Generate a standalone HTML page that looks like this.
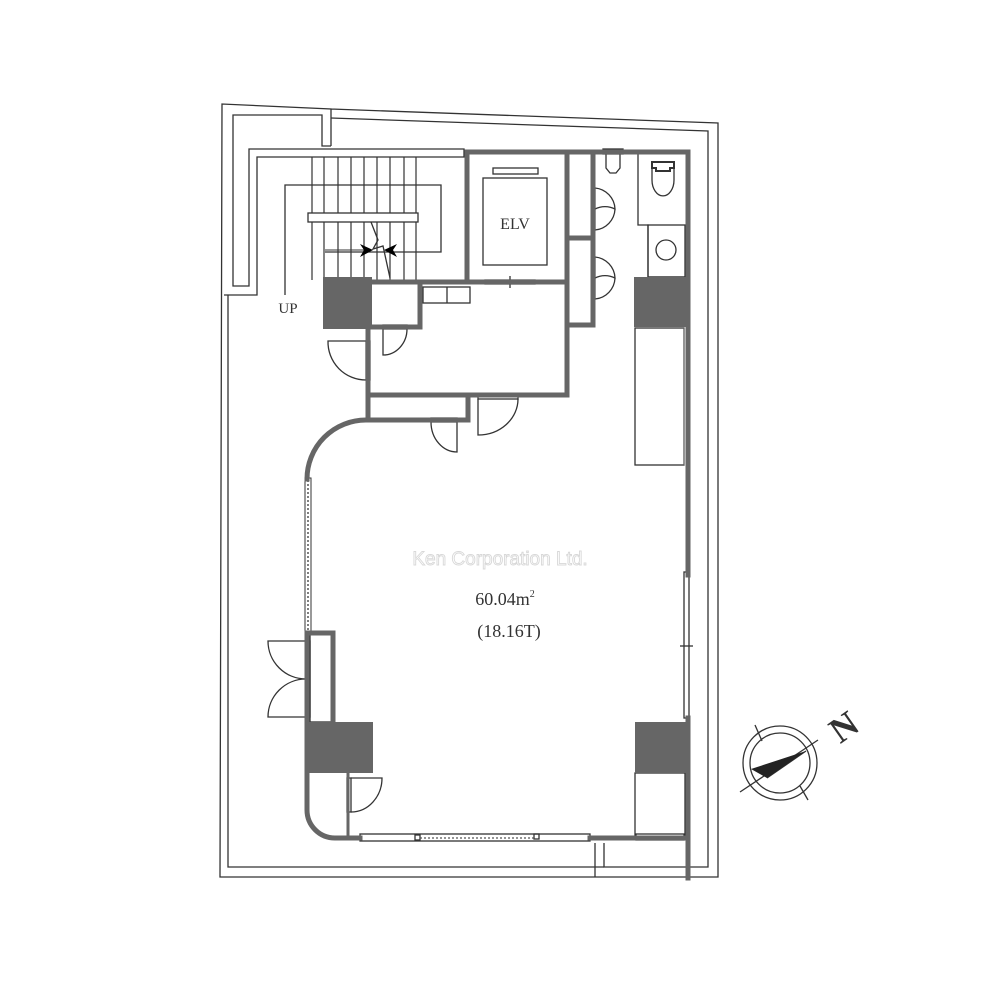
<!DOCTYPE html>
<html><head><meta charset="utf-8"><style>
html,body{margin:0;padding:0;background:#fff;}
svg{display:block;}
text{font-family:"Liberation Serif",serif;fill:#333;}
</style></head><body>
<svg width="1000" height="1000" viewBox="0 0 1000 1000" xmlns="http://www.w3.org/2000/svg">
<rect width="1000" height="1000" fill="#fff"/>
<g fill="none" stroke="#333" stroke-width="1.3">
<polyline points="331,109 718,123 718,877 220,877 222,104 331,109 331,146"/>
<polyline points="331,118 708,131 708,867 604,867 604,843"/>
<polyline points="595,843 595,877"/>
<polyline points="604,867 228,867 228,295"/>
<polyline points="224,295 257,295 257,157 464,157 464,149 249,149 249,286 233,286 233,115 322,115 322,146 331,146"/>
<g stroke-width="1.2">
<line x1="312" y1="157" x2="312" y2="280"/><line x1="324" y1="157" x2="324" y2="280"/>
<line x1="338" y1="157" x2="338" y2="280"/><line x1="351" y1="157" x2="351" y2="280"/>
<line x1="364" y1="157" x2="364" y2="280"/><line x1="377" y1="157" x2="377" y2="280"/>
<line x1="390" y1="157" x2="390" y2="280"/><line x1="404" y1="157" x2="404" y2="280"/>
<line x1="416" y1="157" x2="416" y2="280"/>
</g>
<polyline points="285,295 285,185 441,185 441,252 325,252"/>
<rect x="308" y="213" width="110" height="9" fill="#fff"/>
<polyline points="371,222 378,240 373,249 383,246 390,278"/>
<rect x="483" y="178" width="64" height="87"/>
<rect x="493" y="168" width="45" height="6"/>
<rect x="485" y="280" width="50" height="4" fill="#fff"/>
<line x1="510" y1="276" x2="510" y2="288"/>
<rect x="423" y="287" width="47" height="16"/>
<line x1="447" y1="287" x2="447" y2="303"/>
<polyline points="638,152 638,225 648,225 648,277 685,277"/>
<rect x="648" y="225" width="37" height="52"/>
<circle cx="666" cy="250" r="10"/>
<path d="M652,162 h22 v6 h-4 v3 h-14 v-3 h-4 z" stroke-width="2"/>
<path d="M652,168 v12 a9,13 0 0 0 22,0 v-12"/>
<rect x="603" y="149" width="20" height="5"/>
<path d="M606,154 v14 l4,5 h6 l4,-5 v-14"/>
<rect x="592" y="188" width="3" height="42"/>
<path d="M595,188 a22,22 0 0 1 20,21 a22,22 0 0 0 -20,0 M595,230 a22,22 0 0 0 20,-21"/>
<rect x="592" y="257" width="3" height="42"/>
<path d="M595,257 a22,22 0 0 1 20,21 a22,22 0 0 0 -20,0 M595,299 a22,22 0 0 0 20,-21"/>
<rect x="635" y="328" width="49" height="137"/>
<rect x="366" y="341" width="4" height="39" fill="#fff"/>
<path d="M366,341 h-38 a38,38 0 0 0 38,39"/>
<rect x="383" y="325" width="24" height="4" fill="#fff"/>
<path d="M383,329 v26 a24,26 0 0 0 24,-26"/>
<rect x="431" y="418" width="26" height="4" fill="#fff"/>
<path d="M457,422 v30 a26,30 0 0 1 -26,-30"/>
<rect x="478" y="395" width="40" height="4" fill="#fff"/>
<path d="M478,399 v36 a40,36 0 0 0 40,-36"/>
<rect x="306" y="641" width="4" height="76" fill="#fff"/>
<path d="M306,641 h-38 a38,38 0 0 0 38,38 a38,38 0 0 0 -38,38 h38"/>
<rect x="310" y="633" width="23" height="89"/>
<rect x="347" y="778" width="4" height="34" fill="#fff"/>
<path d="M351,778 h31 a31,34 0 0 1 -31,34"/>
<rect x="635" y="773" width="50" height="65"/>
<rect x="360" y="834" width="230" height="7" fill="#fff"/>
<rect x="415" y="835" width="5" height="5"/><rect x="534" y="834" width="5" height="5"/>
<rect x="636" y="834" width="48" height="6" fill="#fff"/>
<rect x="684" y="572" width="5" height="146" fill="#fff"/>
<line x1="680" y1="646" x2="693" y2="646"/>
</g>
<rect x="305" y="478" width="6" height="155" fill="#fff" stroke="#333" stroke-width="1"/>
<line x1="308" y1="480" x2="308" y2="630" stroke="#555" stroke-width="1.5" stroke-dasharray="2,2"/>
<line x1="420" y1="838" x2="534" y2="838" stroke="#555" stroke-width="1.2" stroke-dasharray="2,2"/>
<g fill="none" stroke="#666" stroke-width="5" stroke-linecap="square">
<polyline points="467,282 467,152 688,152 688,575"/>
<line x1="688" y1="718" x2="688" y2="878"/>
<line x1="567" y1="152" x2="567" y2="395"/>
<line x1="372" y1="282" x2="567" y2="282"/>
<polyline points="593,152 593,325 567,325"/>
<line x1="567" y1="238" x2="593" y2="238"/>
<polyline points="420,282 420,327 372,327"/>
<polyline points="368,329 368,395 567,395"/>
<polyline points="368,395 368,420 468,420 468,397"/>
<path d="M366,420 A59,59 0 0 0 307,479"/>
<path d="M307,633 V810 A28,28 0 0 0 335,838 H360"/>
<polyline points="307,633 333,633 333,722"/>
<line x1="590" y1="838" x2="688" y2="838"/>
</g>
<line x1="348" y1="773" x2="348" y2="836" stroke="#666" stroke-width="3"/>
<line x1="684" y1="465" x2="684" y2="328" stroke="#666" stroke-width="1"/>
<g fill="#666">
<rect x="323" y="277" width="49" height="52"/>
<rect x="634" y="277" width="54" height="50"/>
<rect x="306" y="722" width="67" height="51"/>
<rect x="635" y="722" width="55" height="51"/>
</g>
<line x1="325" y1="250" x2="366" y2="250" stroke="#333" stroke-width="1"/>
<g fill="#000">
<polygon points="360,244 373,250 360,257 364,250"/>
<polygon points="397,244 384,250 397,257 393,250"/>
</g>
<g fill="none" stroke="#333" stroke-width="1.3">
<circle cx="780" cy="763" r="37"/>
<circle cx="780" cy="763" r="30"/>
<line x1="740" y1="792" x2="818" y2="740"/>
<line x1="755" y1="725" x2="762" y2="741"/>
<line x1="800" y1="786" x2="808" y2="800"/>
<line x1="767" y1="778" x2="806" y2="751"/>
</g>
<polygon points="806,751 751,769 767,778" fill="#222"/>
<text x="846" y="730" font-size="36" font-weight="bold" transform="rotate(-35 846 730)" text-anchor="middle" dominant-baseline="middle" fill="#222">N</text>
<text x="288" y="313" font-size="15" text-anchor="middle">UP</text>
<text x="515" y="229" font-size="16" text-anchor="middle">ELV</text>
<text x="500" y="565" font-size="19" text-anchor="middle" style="font-family:'Liberation Sans',sans-serif;fill:#fff;stroke:#d8d8d8;stroke-width:0.9">Ken Corporation Ltd.</text>
<text x="505" y="605" font-size="18" text-anchor="middle">60.04m<tspan font-size="10" dy="-8">2</tspan></text>
<text x="509" y="637" font-size="18" text-anchor="middle">(18.16T)</text>
</svg>
</body></html>
